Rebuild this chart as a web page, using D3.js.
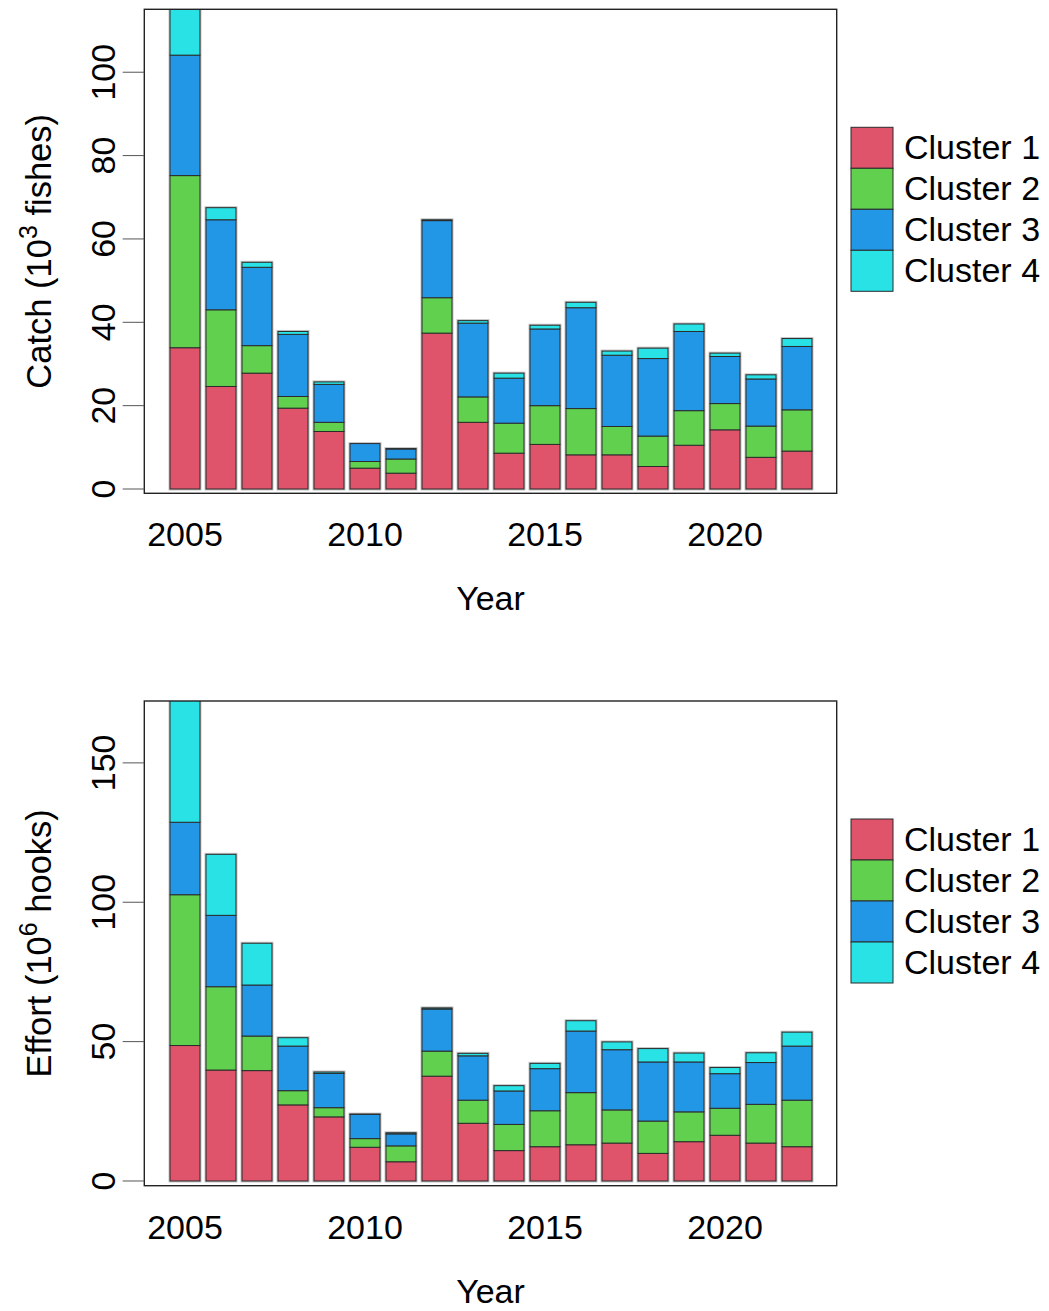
<!DOCTYPE html>
<html>
<head>
<meta charset="utf-8">
<script src="https://cdn.jsdelivr.net/npm/d3@7"></script>
<style>
  body { margin: 0; background: #ffffff; }
  text { font-family: "Liberation Sans", Arial, sans-serif; fill: #000; }
</style>
</head>
<body>
<svg id="chart" width="1049" height="1311"></svg>
<script>
// Years on the x axis
const years = [2005, 2006, 2007, 2008, 2009, 2010, 2011, 2012, 2013,
               2014, 2015, 2016, 2017, 2018, 2019, 2020, 2021, 2022];
const yearTicks = [2005, 2010, 2015, 2020];

const clusters = ["Cluster 1", "Cluster 2", "Cluster 3", "Cluster 4"];
const clusterColors = ["#DF536B", "#61D04F", "#2297E6", "#28E2E5"];

// Catch by cluster (10^3 fishes)
const catchC1 = [33.9, 24.6, 27.8, 19.4, 13.8, 5.0, 3.8, 37.4, 16.0, 8.6, 10.7, 8.2, 8.2, 5.4, 10.5, 14.2, 7.6, 9.1];
const catchC2 = [41.3, 18.4, 6.6, 2.8, 2.2, 1.6, 3.4, 8.5, 6.1, 7.2, 9.3, 11.1, 6.8, 7.3, 8.3, 6.3, 7.5, 9.9];
const catchC3 = [28.9, 21.6, 18.8, 14.9, 9.1, 4.3, 2.4, 18.5, 17.7, 10.8, 18.4, 24.2, 17.1, 18.6, 19.0, 11.3, 11.3, 15.2];
const catchC4 = [13.9, 2.9, 1.2, 0.7, 0.6, 0.0, 0.1, 0.2, 0.6, 1.2, 0.9, 1.3, 1.0, 2.5, 1.8, 0.8, 1.0, 1.9];
const catchTicks = [0, 20, 40, 60, 80, 100];

// Effort by cluster (10^6 hooks)
const effortC1 = [48.6, 39.8, 39.6, 27.3, 23.0, 12.1, 6.9, 37.6, 20.7, 10.9, 12.3, 13.0, 13.6, 9.9, 14.1, 16.4, 13.6, 12.3];
const effortC2 = [54.1, 29.9, 12.4, 5.1, 3.3, 3.1, 5.7, 9.0, 8.3, 9.4, 12.9, 18.7, 11.9, 11.6, 10.7, 9.7, 13.9, 16.7];
const effortC3 = [26.0, 25.6, 18.3, 16.0, 12.3, 8.7, 4.3, 15.1, 15.9, 12.0, 15.1, 22.1, 21.6, 21.2, 17.9, 12.4, 15.0, 19.4];
const effortC4 = [47.3, 21.9, 15.0, 3.0, 0.5, 0.1, 0.4, 0.4, 0.9, 1.9, 1.9, 3.7, 2.8, 4.8, 3.2, 2.2, 3.5, 5.0];
const effortTicks = [0, 50, 100, 150];

const svg = d3.select("#chart");
const FONT = 34;

// Plot box geometry shared by both panels
const boxLeft = 144.3, boxRight = 836.7;

const x = d3.scaleBand()
  .domain(years)
  .range([167, 167 + 36 * years.length])
  .paddingInner(1 / 6)
  .paddingOuter(1 / 12);

function drawPanel(opts) {
  const { id, series, ticks, top, bottom, yLo, yHi, title, sup, titleTail } = opts;
  const g = svg.append("g").attr("class", "panel-" + id);

  const y = d3.scaleLinear().domain([yLo, yHi]).range([bottom, top]);

  const rows = years.map((yr, i) => {
    const r = { year: yr };
    series.forEach((s, k) => { r["c" + k] = s[i]; });
    return r;
  });
  const keys = series.map((_, k) => "c" + k);
  const stacked = d3.stack().keys(keys)(rows);

  const clipId = "clip-" + id;
  g.append("clipPath").attr("id", clipId)
    .append("rect")
    .attr("x", boxLeft).attr("y", top)
    .attr("width", boxRight - boxLeft).attr("height", bottom - top);

  const bars = g.append("g").attr("clip-path", `url(#${clipId})`);

  // soft outline around each whole stack
  const last = stacked[stacked.length - 1];
  bars.append("g").selectAll("rect")
    .data(last)
    .join("rect")
    .attr("x", d => x(d.data.year))
    .attr("width", x.bandwidth())
    .attr("y", d => y(d[1]))
    .attr("height", d => y(0) - y(d[1]))
    .attr("fill", "none")
    .attr("stroke", "#c4c4c4")
    .attr("stroke-width", 3);

  bars.selectAll("g.layer")
    .data(stacked)
    .join("g")
    .attr("class", "layer")
    .attr("fill", (d, k) => clusterColors[k])
    .selectAll("rect")
    .data(d => d)
    .join("rect")
    .attr("x", d => x(d.data.year))
    .attr("width", x.bandwidth())
    .attr("y", d => y(d[1]))
    .attr("height", d => Math.max(0, y(d[0]) - y(d[1])))
    .attr("stroke", "#2b2b2b")
    .attr("stroke-width", 1);

  // plot frame
  g.append("rect")
    .attr("x", boxLeft).attr("y", top)
    .attr("width", boxRight - boxLeft).attr("height", bottom - top)
    .attr("fill", "none")
    .attr("stroke", "#222")
    .attr("stroke-width", 1.4);

  // y axis ticks and rotated labels
  const yAxis = g.append("g");
  yAxis.selectAll("line")
    .data(ticks)
    .join("line")
    .attr("x1", 122.7).attr("x2", boxLeft)
    .attr("y1", d => y(d)).attr("y2", d => y(d))
    .attr("stroke", "#555").attr("stroke-width", 1);
  yAxis.selectAll("text")
    .data(ticks)
    .join("text")
    .attr("transform", d => `translate(115,${y(d)}) rotate(-90)`)
    .attr("text-anchor", "middle")
    .attr("font-size", FONT)
    .text(d => d);

  // x axis labels
  g.append("g").selectAll("text")
    .data(yearTicks)
    .join("text")
    .attr("x", d => x(d) + x.bandwidth() / 2)
    .attr("y", bottom + 53)
    .attr("text-anchor", "middle")
    .attr("font-size", FONT)
    .text(d => d);

  // axis titles
  g.append("text")
    .attr("x", (boxLeft + boxRight) / 2)
    .attr("y", bottom + 117)
    .attr("text-anchor", "middle")
    .attr("font-size", FONT)
    .text("Year");

  const yt = g.append("text")
    .attr("transform", `translate(51,${(top + bottom) / 2}) rotate(-90)`)
    .attr("text-anchor", "middle")
    .attr("font-size", 34.5);
  yt.append("tspan").text(title);
  yt.append("tspan").attr("font-size", 25).attr("dy", -14).text(sup);
  yt.append("tspan").attr("dy", 14).text(titleTail);

  // legend
  const leg = g.append("g").attr("transform", `translate(851,${top + 118})`);
  const items = leg.selectAll("g")
    .data(clusters)
    .join("g")
    .attr("transform", (d, k) => `translate(0,${k * 41})`);
  items.append("rect")
    .attr("width", 42).attr("height", 41)
    .attr("fill", (d, k) => clusterColors[k])
    .attr("stroke", "#2b2b2b").attr("stroke-width", 1);
  items.append("text")
    .attr("x", 53).attr("y", 32)
    .attr("font-size", FONT)
    .text(d => d);
}

drawPanel({
  id: "catch",
  series: [catchC1, catchC2, catchC3, catchC4],
  ticks: catchTicks,
  top: 9.3, bottom: 493.3,
  yLo: -1.03, yHi: 115.1,
  title: "Catch (10", sup: "3", titleTail: " fishes)"
});

drawPanel({
  id: "effort",
  series: [effortC1, effortC2, effortC3, effortC4],
  ticks: effortTicks,
  top: 701, bottom: 1185.7,
  yLo: -1.69, yHi: 172.2,
  title: "Effort (10", sup: "6", titleTail: " hooks)"
});
</script>
</body>
</html>
